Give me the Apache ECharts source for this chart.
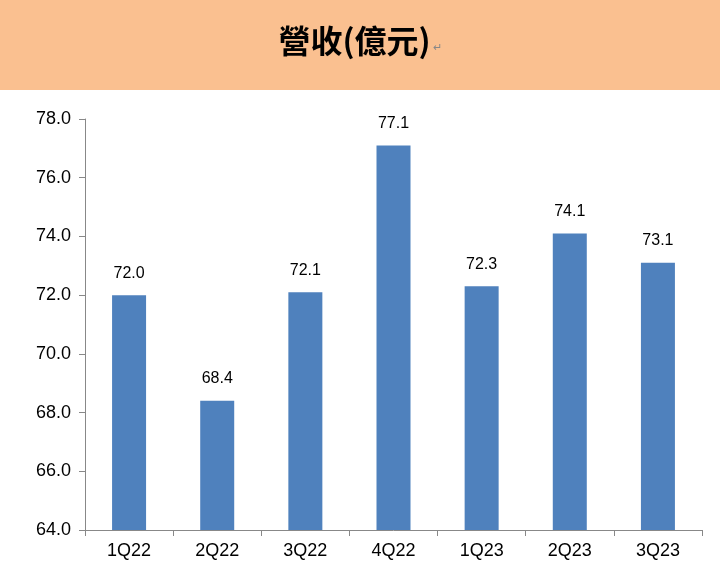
<!DOCTYPE html>
<html>
<head>
<meta charset="utf-8">
<script src="https://cdn.jsdelivr.net/npm/echarts@6/dist/echarts.min.js"></script>
<style>html,body{margin:0;padding:0;background:#fff}#chart{width:720px;height:585px}</style>
</head>
<body>
<div id="chart"></div>
<script>
var quarters = ['1Q22', '2Q22', '3Q22', '4Q22', '1Q23', '2Q23', '3Q23'];
var revenue = [72.0, 68.4, 72.1, 77.1, 72.3, 74.1, 73.1];

var chart = echarts.init(document.getElementById('chart'));
chart.setOption({
    animation: false,
    graphic: [
        { type: 'rect', left: 0, top: 0, shape: { width: 720, height: 90 }, style: { fill: '#FAC090' } },
        { type: 'text', left: 'center', top: 25, style: {
            text: '{t|營收(億元)}{m|↵}',
            rich: {
                t: { fontSize: 32, fontWeight: 'bold', fill: '#000', fontFamily: 'Noto Sans CJK TC' },
                m: { fontSize: 11, fill: '#888', padding: [14, 0, 0, 2] }
            }
        } }
    ],
    grid: { left: 85, right: 18, top: 119, bottom: 55 },
    xAxis: {
        type: 'category',
        data: quarters,
        axisLine: { lineStyle: { color: '#888' } },
        axisTick: { show: true, length: 6, lineStyle: { color: '#888' } },
        axisLabel: { color: '#000', fontSize: 18, fontFamily: 'Liberation Sans', margin: 12 }
    },
    yAxis: {
        type: 'value',
        min: 64, max: 78, interval: 2,
        axisLine: { show: true, lineStyle: { color: '#888' } },
        axisTick: { show: true, length: 6, lineStyle: { color: '#888' } },
        splitLine: { show: false },
        axisLabel: { color: '#000', fontSize: 18, fontFamily: 'Liberation Sans', margin: 14,
            formatter: function (v) { return v.toFixed(1); } }
    },
    series: [{
        type: 'bar',
        data: revenue,
        barWidth: 34,
        itemStyle: { color: '#4F81BD' },
        label: { show: true, position: 'top', distance: 14, color: '#000', fontSize: 16,
            fontFamily: 'Liberation Sans', formatter: function (p) { return p.value.toFixed(1); } }
    }]
});
</script>
</body>
</html>
